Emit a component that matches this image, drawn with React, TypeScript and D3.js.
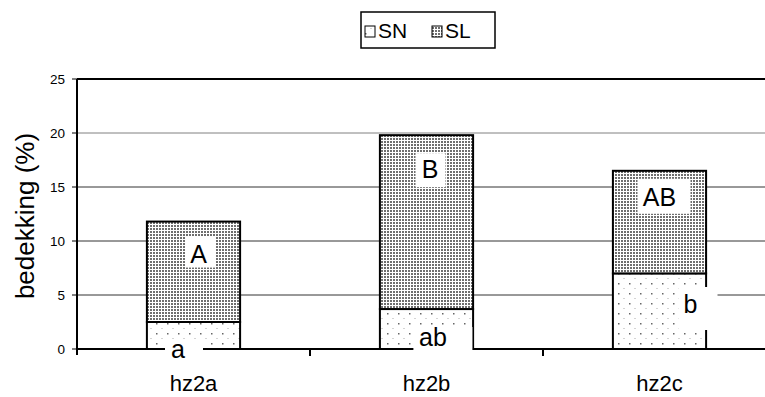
import React from "react";
import * as d3 from "d3";

const categories = ["hz2a", "hz2b", "hz2c"];
const snValues = [2.5, 3.7, 7.0];
const slValues = [9.3, 16.1, 9.5];
const slLabels = ["A", "B", "AB"];
const snLabels = ["a", "ab", "b"];
const yTicks = [0, 5, 10, 15, 20, 25];
const seriesNames = ["SN", "SL"];

export default function App() {
  const W = 765, H = 397;
  const left = 77, top = 79, bottom = 349;
  const step = 233;
  const right = left + step * categories.length;
  const x = d3.scaleBand<string>().domain(categories).range([left, right]).paddingInner(0.6).paddingOuter(0.3);
  const y = d3.scaleLinear().domain([0, 25]).range([bottom, top]);
  const font = "Arial, 'Liberation Sans', Helvetica, sans-serif";
  const bw = x.bandwidth();

  const slPlace = [
    { dx: 5, dy: 41, bx0: -13.5, bx1: 16.5, by0: -26, by1: 5 },
    { dx: 3.5, dy: 43, bx0: -14.5, bx1: 15.5, by0: -25, by1: 9 },
    { dx: 0, dy: 35, bx0: -22, bx1: 31, by0: -27, by1: 8 },
  ];
  const snPlace = [
    { dx: -15.5, base: 358, bx0: -13, bx1: 25, by0: -18, by1: 6 },
    { dx: 6.5, base: 346, bx0: -19.6, bx1: 39.4, by0: -19, by1: 16 },
    { dx: 31, base: 313, bx0: -12, bx1: 27, by0: -26, by1: 17 },
  ];

  return (
    <svg width={W} height={H} style={{ position: "absolute", left: 0, top: 0 }} xmlns="http://www.w3.org/2000/svg">
      <defs>
        <pattern id="slPat" width="3" height="3" patternUnits="userSpaceOnUse">
          <rect width="3" height="3" fill="#ffffff" />
          <rect x="0" y="0" width="2" height="2" fill="#6e6e6e" />
        </pattern>
        <pattern id="snPat" width="11" height="10" patternUnits="userSpaceOnUse">
          <rect width="11" height="10" fill="#ffffff" />
          <rect x="2" y="3" width="1.5" height="1.5" fill="#666" />
          <rect x="7.5" y="8" width="1" height="1" fill="#aaa" />
        </pattern>
      </defs>
      <rect width={W} height={H} fill="#fff" />

      {yTicks.filter(t => t > 0 && t < 25).map(t => (
        <line key={t} x1={left} x2={right} y1={y(t)} y2={y(t)} stroke={t === 20 ? "#808080" : "#333"} strokeWidth={1} />
      ))}
      <line x1={left} x2={right} y1={y(25)} y2={y(25)} stroke="#000" strokeWidth={2} />

      {categories.map((c, i) => {
        const bx = x(c)!;
        const sn = snValues[i];
        const tot = sn + slValues[i];
        return (
          <g key={c}>
            <rect x={bx} y={y(sn)} width={bw} height={y(0) - y(sn)} fill="url(#snPat)" stroke="#000" strokeWidth={2} />
            <rect x={bx} y={y(tot)} width={bw} height={y(sn) - y(tot)} fill="url(#slPat)" stroke="#000" strokeWidth={2} />
          </g>
        );
      })}

      <line x1={left} x2={right} y1={bottom} y2={bottom} stroke="#000" strokeWidth={2} />
      <line x1={left} x2={left} y1={top} y2={bottom + 6} stroke="#000" strokeWidth={2} />
      {yTicks.map(t => (
        <g key={t}>
          <line x1={left - 5} x2={left} y1={y(t)} y2={y(t)} stroke="#000" strokeWidth={1} />
          <text x={left - 12} y={y(t)} dy="0.36em" textAnchor="end" fontFamily={font} fontSize={13.5} fill="#000">{t}</text>
        </g>
      ))}
      {categories.slice(1).map((c, i) => {
        const xb = left + step * (i + 1);
        return <line key={c} x1={xb} x2={xb} y1={bottom} y2={bottom + 7} stroke="#000" strokeWidth={2} />;
      })}

      {categories.map((c, i) => {
        const bx = x(c)!;
        const cx = bx + bw / 2;
        const tot = snValues[i] + slValues[i];
        const sp = slPlace[i];
        const tx = cx + sp.dx;
        const ty = y(tot) + sp.dy;
        const np = snPlace[i];
        const nx = cx + np.dx;
        const ny = np.base;
        return (
          <g key={c}>
            <rect x={tx + sp.bx0} y={ty + sp.by0} width={sp.bx1 - sp.bx0} height={sp.by1 - sp.by0} fill="#fff" />
            <text x={tx} y={ty} textAnchor="middle" fontFamily={font} fontSize={25} fill="#000">{slLabels[i]}</text>
            <rect x={nx + np.bx0} y={ny + np.by0} width={np.bx1 - np.bx0} height={np.by1 - np.by0} fill="#fff" />
            <text x={nx} y={ny} textAnchor="middle" fontFamily={font} fontSize={25} fill="#000">{snLabels[i]}</text>
          </g>
        );
      })}

      {categories.map(c => (
        <text key={c} x={x(c)! + bw / 2} y={391} textAnchor="middle" fontFamily={font} fontSize={22} fill="#000">{c}</text>
      ))}

      <text transform={`translate(34,216) rotate(-90)`} textAnchor="middle" fontFamily={font} fontSize={26} fill="#000">bedekking (%)</text>

      <g>
        <rect x={361} y={12} width={134} height={36} fill="#fff" stroke="#000" strokeWidth={1.5} />
        {seriesNames.map((s, i) => {
          const lx = 365 + i * 67;
          return (
            <g key={s}>
              <rect x={lx} y={26} width={10} height={11} fill={i === 0 ? "url(#snPat)" : "url(#slPat)"} stroke="#000" strokeWidth={1} />
              <text x={lx + 13} y={38} fontFamily={font} fontSize={21} fill="#000">{s}</text>
            </g>
          );
        })}
      </g>
    </svg>
  );
}
